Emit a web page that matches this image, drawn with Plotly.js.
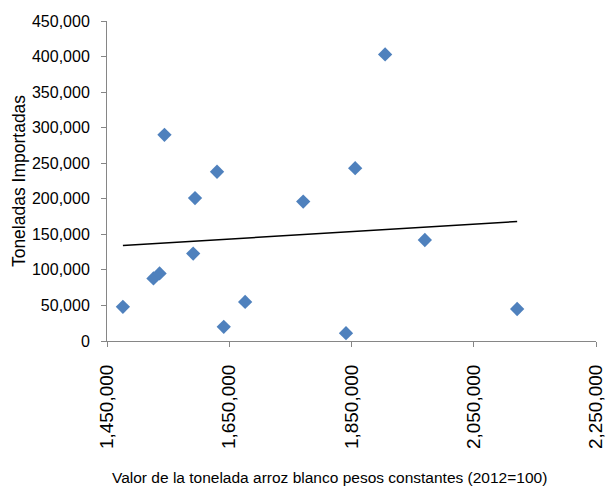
<!DOCTYPE html>
<html>
<head>
<meta charset="utf-8">
<script src="https://cdn.plot.ly/plotly-3.0.1.min.js"></script>
<style>html,body{margin:0;padding:0;background:#fff;}#chart{width:609px;height:489px;}</style>
</head>
<body>
<div id="chart"></div>
<script>
// Valor de la tonelada (pesos constantes 2012=100)
const valorTonelada = [1476000, 1526000, 1536000, 1544000, 1594000, 1591000, 1630000, 1641000, 1676000, 1771000, 1841000, 1856000, 1905000, 1970000, 2121000];
// Toneladas importadas
const toneladasImportadas = [48000, 88000, 95000, 290000, 201000, 123000, 238000, 20000, 55000, 196000, 11000, 243000, 403000, 142000, 45000];

const xTickVals = [1450000, 1650000, 1850000, 2050000, 2250000];
const xTickText = ["1,450,000", "1,650,000", "1,850,000", "2,050,000", "2,250,000"];

const xTitle = 'Valor de la tonelada arroz blanco pesos constantes (2012=100)';
const yTitle = 'Toneladas Importadas';

// Linear trendline (least squares) computed from the data
const n = valorTonelada.length;
const mx = valorTonelada.reduce((a, b) => a + b, 0) / n;
const my = toneladasImportadas.reduce((a, b) => a + b, 0) / n;
let sxy = 0, sxx = 0;
for (let i = 0; i < n; i++) {
  sxy += (valorTonelada[i] - mx) * (toneladasImportadas[i] - my);
  sxx += (valorTonelada[i] - mx) ** 2;
}
const slope = sxy / sxx;
const intercept = my - slope * mx;
const xMin = Math.min(...valorTonelada), xMax = Math.max(...valorTonelada);
const trendX = [xMin, xMax];
const trendY = trendX.map(x => intercept + slope * x);

const axisColor = '#868686';

const data = [
  {
    type: 'scatter', mode: 'markers',
    x: valorTonelada, y: toneladasImportadas,
    marker: {symbol: 'diamond', size: 11, color: '#4F81BD', line: {width: 0}},
    showlegend: false, hoverinfo: 'x+y'
  },
  {
    type: 'scatter', mode: 'lines',
    x: trendX, y: trendY,
    line: {color: '#000000', width: 1.5},
    showlegend: false, hoverinfo: 'skip'
  }
];

const layout = {
  width: 609, height: 489,
  margin: {l: 107, r: 13, t: 21, b: 148},
  paper_bgcolor: '#ffffff', plot_bgcolor: '#ffffff',
  font: {family: 'Liberation Sans, Arial, sans-serif', color: '#000000'},
  xaxis: {
    range: [1450000, 2250000],
    tickvals: xTickVals, ticktext: xTickText,
    tickangle: -90,
    tickfont: {family: 'Liberation Sans, Arial, sans-serif', size: 19, color: '#000000'},
    ticks: 'outside', ticklen: 5, tickcolor: axisColor, tickwidth: 1,
    ticklabelstandoff: 10,
    showline: true, linecolor: axisColor, linewidth: 1,
    showgrid: false, zeroline: false
  },
  yaxis: {
    range: [0, 450000], dtick: 50000, tick0: 0,
    tickformat: ',d',
    tickfont: {family: 'Liberation Sans, Arial, sans-serif', size: 16, color: '#000000'},
    ticks: 'outside', ticklen: 5, tickcolor: axisColor, tickwidth: 1,
    ticklabelstandoff: 8,
    showline: true, linecolor: axisColor, linewidth: 1,
    showgrid: false, zeroline: false,
    title: {text: yTitle,
            font: {family: 'Liberation Sans, Arial, sans-serif', size: 17.5, color: '#000000'},
            standoff: 1}
  },
  annotations: [
    {
      text: xTitle,
      xref: 'paper', yref: 'paper',
      x: 0.456, y: -0.428,
      xanchor: 'center', yanchor: 'middle',
      showarrow: false,
      font: {family: 'Liberation Sans, Arial, sans-serif', size: 15.5, color: '#000000'}
    }
  ]
};

Plotly.newPlot('chart', data, layout, {displayModeBar: false, staticPlot: true});
</script>
</body>
</html>
